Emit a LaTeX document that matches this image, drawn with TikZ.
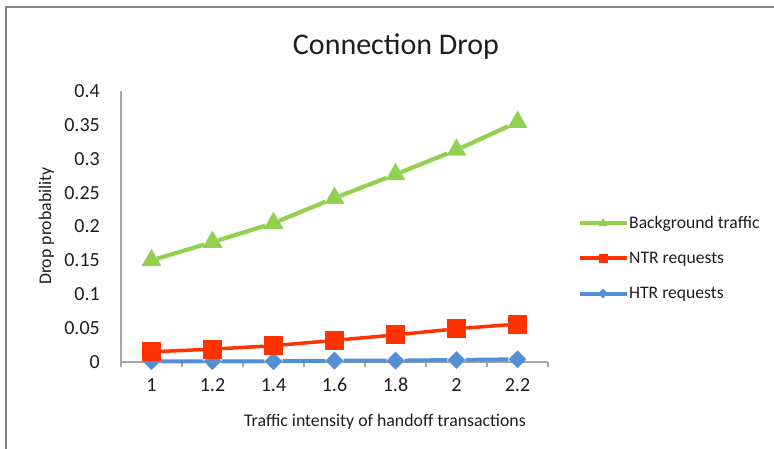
\documentclass[tikz,border=0pt]{standalone}
\usepackage{fontspec}
\setmainfont{Carlito}
\usetikzlibrary{shapes.geometric}
\definecolor{bggreen}{HTML}{92D050}
\definecolor{ntrred}{HTML}{FF3300}
\definecolor{htrblue}{HTML}{558ED5}
\definecolor{axisgray}{HTML}{A6A6A6}
\definecolor{framegray}{HTML}{868686}
\definecolor{txt}{HTML}{1E1E1E}
\tikzset{
  tri/.style={regular polygon, regular polygon sides=3, minimum size=23pt, inner sep=0pt, fill=bggreen, draw=none},
  sq/.style={rectangle, minimum size=19pt, inner sep=0pt, fill=ntrred, draw=none},
  dia/.style={diamond, minimum width=18pt, minimum height=18pt, inner sep=0pt, fill=htrblue, draw=none},
  ltri/.style={tri, minimum size=11pt},
  lsq/.style={sq, minimum size=9pt},
  ldia/.style={dia, minimum width=10pt, minimum height=10pt},
  gline/.style={draw=bggreen, line width=4.2pt},
  rline/.style={draw=ntrred, line width=3.5pt},
  bline/.style={draw=htrblue, line width=4pt},
  axisline/.style={draw=axisgray, line width=1.3pt},
  ticklab/.style={text=txt, inner sep=0pt, font=\fontsize{20}{24}\selectfont},
  axtitle/.style={text=txt, inner sep=0pt, font=\fontsize{17.8}{20}\selectfont},
  legtext/.style={text=txt, inner sep=0pt, anchor=base west, font=\fontsize{17.6}{20}\selectfont},
}
\begin{document}
\begin{tikzpicture}[x=1pt,y=-1pt]
\useasboundingbox (0,0) rectangle (774,449);
\fill[white] (0,0) rectangle (774,449);
% frame
\draw[framegray, line width=2pt] (6,449) -- (6,7) -- (774,7);
% title
\node[text=txt, inner sep=0pt, anchor=base, font=\fontsize{30}{34}\selectfont] (title) at (396,55) {Connection Drop};
% axes
\coordinate (ytop) at (121,91);
\coordinate (orig) at (121,362);
\coordinate (xend) at (548,362);
\draw[axisline] (ytop) -- (orig) -- (xend);
\foreach \k in {0,...,7} {
  \draw[axisline] (121+61*\k,362) -- (121+61*\k,367);
}
% y tick labels
\foreach \v/\l [count=\i] in {0/0,0.05/0.05,0.1/0.1,0.15/0.15,0.2/0.2,0.25/0.25,0.3/0.3,0.35/0.35,0.4/0.4} {
  \node[ticklab, anchor=east] (yl\i) at (100,{362-\v*677.5}) {\l};
}
% x tick labels
\foreach \l [count=\i] in {1,1.2,1.4,1.6,1.8,2,2.2} {
  \node[ticklab] (xl\i) at ({121+61*(\i-0.5)},385) {\l};
}
% axis titles
\node[axtitle, anchor=base] (xtitle) at (385,426) {Traffic intensity of handoff transactions};
\node[axtitle, anchor=base, rotate=90] (ytitle) at (51,226) {Drop probability};
% HTR series
\foreach \v [count=\i] in {0.001,0.001,0.001,0.002,0.002,0.003,0.004} {
  \node[dia] (h\i) at ({121+61*(\i-0.5)},{362-\v*677.5}) {};
}
\draw[bline] (h1) -- (h2) -- (h3) -- (h4) -- (h5) -- (h6) -- (h7);
% NTR series
\foreach \v [count=\i] in {0.015,0.019,0.024,0.032,0.040,0.049,0.056} {
  \node[sq] (n\i) at ({121+61*(\i-0.5)},{362-\v*677.5}) {};
}
\draw[rline] (n1) -- (n2) -- (n3) -- (n4) -- (n5) -- (n6) -- (n7);
% Background series
\foreach \v [count=\i] in {0.150,0.177,0.205,0.242,0.277,0.313,0.354} {
  \node[tri] (g\i) at ({121+61*(\i-0.5)},{362-\v*677.5}) {};
}
\draw[gline] (g1) -- (g2) -- (g3) -- (g4) -- (g5) -- (g6) -- (g7);
% legend
\coordinate (la1) at (580,223.5); \coordinate (lb1) at (627,223.5);
\coordinate (la2) at (580,258.5); \coordinate (lb2) at (627,258.5);
\coordinate (la3) at (580,293.5); \coordinate (lb3) at (627,293.5);
\draw[gline, line width=4pt] (la1) -- (lb1);
\draw[rline, line width=4pt] (la2) -- (lb2);
\draw[bline, line width=4pt] (la3) -- (lb3);
\node[ltri] (lm1) at (603,223.5) {};
\node[lsq] (lm2) at (603,258.5) {};
\node[ldia] (lm3) at (603,293.5) {};
\node[legtext] (lt1) at (629,229) {Background traffic};
\node[legtext] (lt2) at (629,264) {NTR requests};
\node[legtext] (lt3) at (629,298.5) {HTR requests};
\end{tikzpicture}
\end{document}
